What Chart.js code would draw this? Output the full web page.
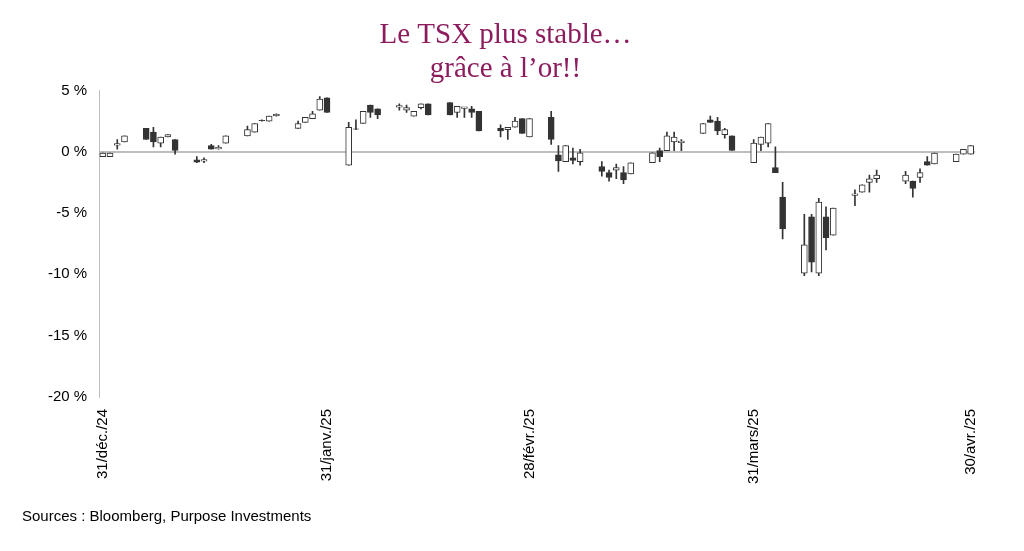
<!DOCTYPE html>
<html><head><meta charset="utf-8">
<script src="https://cdn.jsdelivr.net/npm/chart.js@4.4.1/dist/chart.umd.min.js"></script>
<style>body{margin:0;background:#fff}#w{position:relative;width:1024px;height:551px}
#src{position:absolute;left:22px;top:507px;font:15px "Liberation Sans",Arial,sans-serif;color:#000}</style>
</head><body><div id="w"><canvas id="c" width="1024" height="551"></canvas><div id="src">Sources : Bloomberg, Purpose Investments</div></div>
<script>
const dates = ["2024-12-31","2025-01-01","2025-01-02","2025-01-03",
"2025-01-06","2025-01-07","2025-01-08","2025-01-09","2025-01-10",
"2025-01-13","2025-01-14","2025-01-15","2025-01-16","2025-01-17",
"2025-01-20","2025-01-21","2025-01-22","2025-01-23","2025-01-24",
"2025-01-27","2025-01-28","2025-01-29","2025-01-30","2025-01-31",
"2025-02-03","2025-02-04","2025-02-05","2025-02-06","2025-02-07",
"2025-02-10","2025-02-11","2025-02-12","2025-02-13","2025-02-14",
"2025-02-17","2025-02-18","2025-02-19","2025-02-20","2025-02-21",
"2025-02-24","2025-02-25","2025-02-26","2025-02-27","2025-02-28",
"2025-03-03","2025-03-04","2025-03-05","2025-03-06","2025-03-07",
"2025-03-10","2025-03-11","2025-03-12","2025-03-13","2025-03-14",
"2025-03-17","2025-03-18","2025-03-19","2025-03-20","2025-03-21",
"2025-03-24","2025-03-25","2025-03-26","2025-03-27","2025-03-28",
"2025-03-31","2025-04-01","2025-04-02","2025-04-03","2025-04-04",
"2025-04-07","2025-04-08","2025-04-09","2025-04-10","2025-04-11",
"2025-04-14","2025-04-15","2025-04-16","2025-04-17",
"2025-04-21","2025-04-22","2025-04-23","2025-04-24","2025-04-25",
"2025-04-28","2025-04-29","2025-04-30"];
// open, high, low, close (% vs 31 Dec)
const opens = [-0.4,-0.4,0.6,0.8, 1.9,1.6,0.7,1.2,1.0, -0.65,-0.7,0.5,0.3,0.7,
1.3,1.6,2.6,2.5,3.0, 1.9,2.4,2.7,3.4,4.4, -1.1,1.9,2.3,3.8,3.5,
3.7,3.4,2.9,3.6,3.9, 4.0,3.2,3.6,3.5,3.3, 1.9,1.8,2.0,2.7,1.2,
2.8,-0.25,-0.8,-0.5,-0.8, -1.2,-1.7,-1.5,-1.7,-1.8, -0.9,0.1,0.0,0.8,0.8,
1.5,2.6,2.5,1.4,1.3, -0.9,0.6,0.7,-1.3,-3.7, -9.9,-5.3,-9.9,-5.3,-6.8,
-3.5,-3.3,-2.5,-2.2,-2.4, -2.4,-2.1,-0.8,-1.0,-0.8, -0.2,-0.2,-0.3,0.2];
const closes = [-0.1,-0.1,0.6,1.3, 1.0,0.8,1.2,1.4,0.1, -0.85,-0.7,0.2,0.3,1.3,
1.8,2.3,2.5,2.9,3.0, 2.3,2.8,3.1,4.3,3.2, 2.0,1.8,3.3,3.2,3.0,
3.7,3.6,3.3,3.9,3.0, 3.0,3.7,3.6,3.2,1.7, 1.7,2.0,2.5,1.5,2.7,
1.0,-0.75,0.5,-0.7,0.0, -1.6,-2.1,-1.3,-2.3,-0.9, 0.0,-0.4,1.3,1.2,0.8,
2.3,2.4,1.7,1.8,0.1, 0.7,1.2,2.3,-1.7,-6.3, -7.6,-9.0,-4.1,-7.0,-4.6,
-3.5,-2.7,-2.2,-1.9,-1.9, -3.0,-1.7,-1.1,-0.1,-0.2, 0.2,0.5,0.3,0.4];
const highs = [-0.1,-0.1,1.0,1.3, 1.9,2.0,1.2,1.4,1.0, -0.4,-0.5,0.6,0.5,1.3,
2.1,2.3,2.6,2.9,3.1, 2.5,2.8,3.3,4.5,4.4, 2.4,2.6,3.3,3.8,3.5,
3.9,3.8,3.3,3.9,3.9, 4.0,3.7,3.6,3.7,3.3, 2.2,2.0,2.8,2.7,2.7,
3.3,0.5,0.5,0.3,0.2, -0.8,-1.5,-1.0,-1.2,-0.9, 0.0,0.3,1.6,1.6,1.0,
2.3,2.9,2.8,1.9,1.3, 1.0,1.2,2.3,0.4,-2.5, -5.1,-5.1,-3.8,-4.5,-4.6,
-3.1,-2.7,-1.9,-1.5,-1.6, -2.4,-1.4,-0.4,-0.1,-0.2, 0.2,0.5,0.3,0.4];
const lows = [-0.4,-0.4,0.2,0.8, 1.0,0.4,0.4,1.2,-0.2, -0.9,-0.9,0.2,0.2,0.7,
1.3,1.6,2.5,2.5,2.9, 1.9,2.4,2.7,3.4,3.2, -1.1,1.8,2.3,2.8,2.7,
3.4,3.2,2.9,3.5,3.0, 3.0,2.8,2.8,2.8,1.7, 1.2,1.0,2.0,1.5,1.2,
0.6,-1.6,-0.8,-1.0,-1.1, -2.0,-2.4,-2.2,-2.6,-1.8, -0.9,-0.8,0.0,0.0,0.0,
1.5,2.4,1.4,1.1,0.1, -0.9,0.0,0.4,-1.7,-7.1, -10.1,-9.8,-10.1,-8.0,-6.8,
-4.4,-3.3,-3.3,-2.5,-2.6, -3.7,-2.5,-1.1,-1.0,-0.8, -0.2,-0.2,-1.0,0.0];
const xTickDays = [0,31,59,90,120];
const xTickLabels = ["31/déc./24","31/janv./25","28/févr./25","31/mars/25","30/avr./25"];

const base = Date.UTC(2024,11,31);
const dayOf = d => { const [y,m,dd]=d.split("-").map(Number); return Math.round((Date.UTC(y,m-1,dd)-base)/86400000); };
const xs = dates.map(dayOf);
const wicks = xs.map((x,i)=>({x, y:[lows[i], highs[i]]}));
const bodies = xs.map((x,i)=>{ let a=opens[i], b=closes[i]; if (Math.abs(a-b)<0.12){a-=0.06;b+=0.06;} return {x, y:[a,b]}; });
const bodyColors = xs.map((x,i)=> closes[i] < opens[i] ? "#333333" : "#ffffff");

new Chart(document.getElementById("c"), {
  type: "bar",
  data: { datasets: [
    { data: wicks, backgroundColor:"#333", borderWidth:0, barThickness:1, grouped:false, order:2 },
    { data: bodies, backgroundColor: bodyColors, borderColor:"#333", borderWidth:1, borderSkipped:false, barThickness:6, grouped:false, order:1 }
  ]},
  options: {
    responsive:false, animation:false,
    layout:{ padding:{ left:36, right:49, top:18, bottom:63 } },
    plugins:{
      legend:{display:false}, tooltip:{enabled:false},
      title:{ display:true, text:["Le TSX plus stable…","grâce à l’or!!"], color:"#8c1c5e",
        font:{ family:"Liberation Serif", size:29, weight:"normal", lineHeight:1.18 }, padding:{top:0,bottom:4} }
    },
    scales:{
      x:{ type:"linear", min:-0.5, max:120.6, offset:false,
        afterBuildTicks: s => { s.ticks = xTickDays.map(v=>({value:v})); },
        ticks:{ callback:(v)=> xTickLabels[xTickDays.indexOf(v)] ?? "", minRotation:90, maxRotation:90,
          color:"#000", font:{family:"Liberation Sans", size:15}, padding:4 },
        grid:{ display:false }, border:{ display:false } },
      y:{ min:-20, max:5,
        ticks:{ stepSize:5, callback:v=> v+" %", color:"#000", font:{family:"Liberation Sans", size:15}, padding:12 },
        grid:{ drawTicks:false, color: c => c.tick && c.tick.value===0 ? "#bdbdbd" : "rgba(0,0,0,0)", lineWidth:2 },
        border:{ display:true, color:"#bdbdbd", width:1 } }
    }
  }
});
</script></body></html>
